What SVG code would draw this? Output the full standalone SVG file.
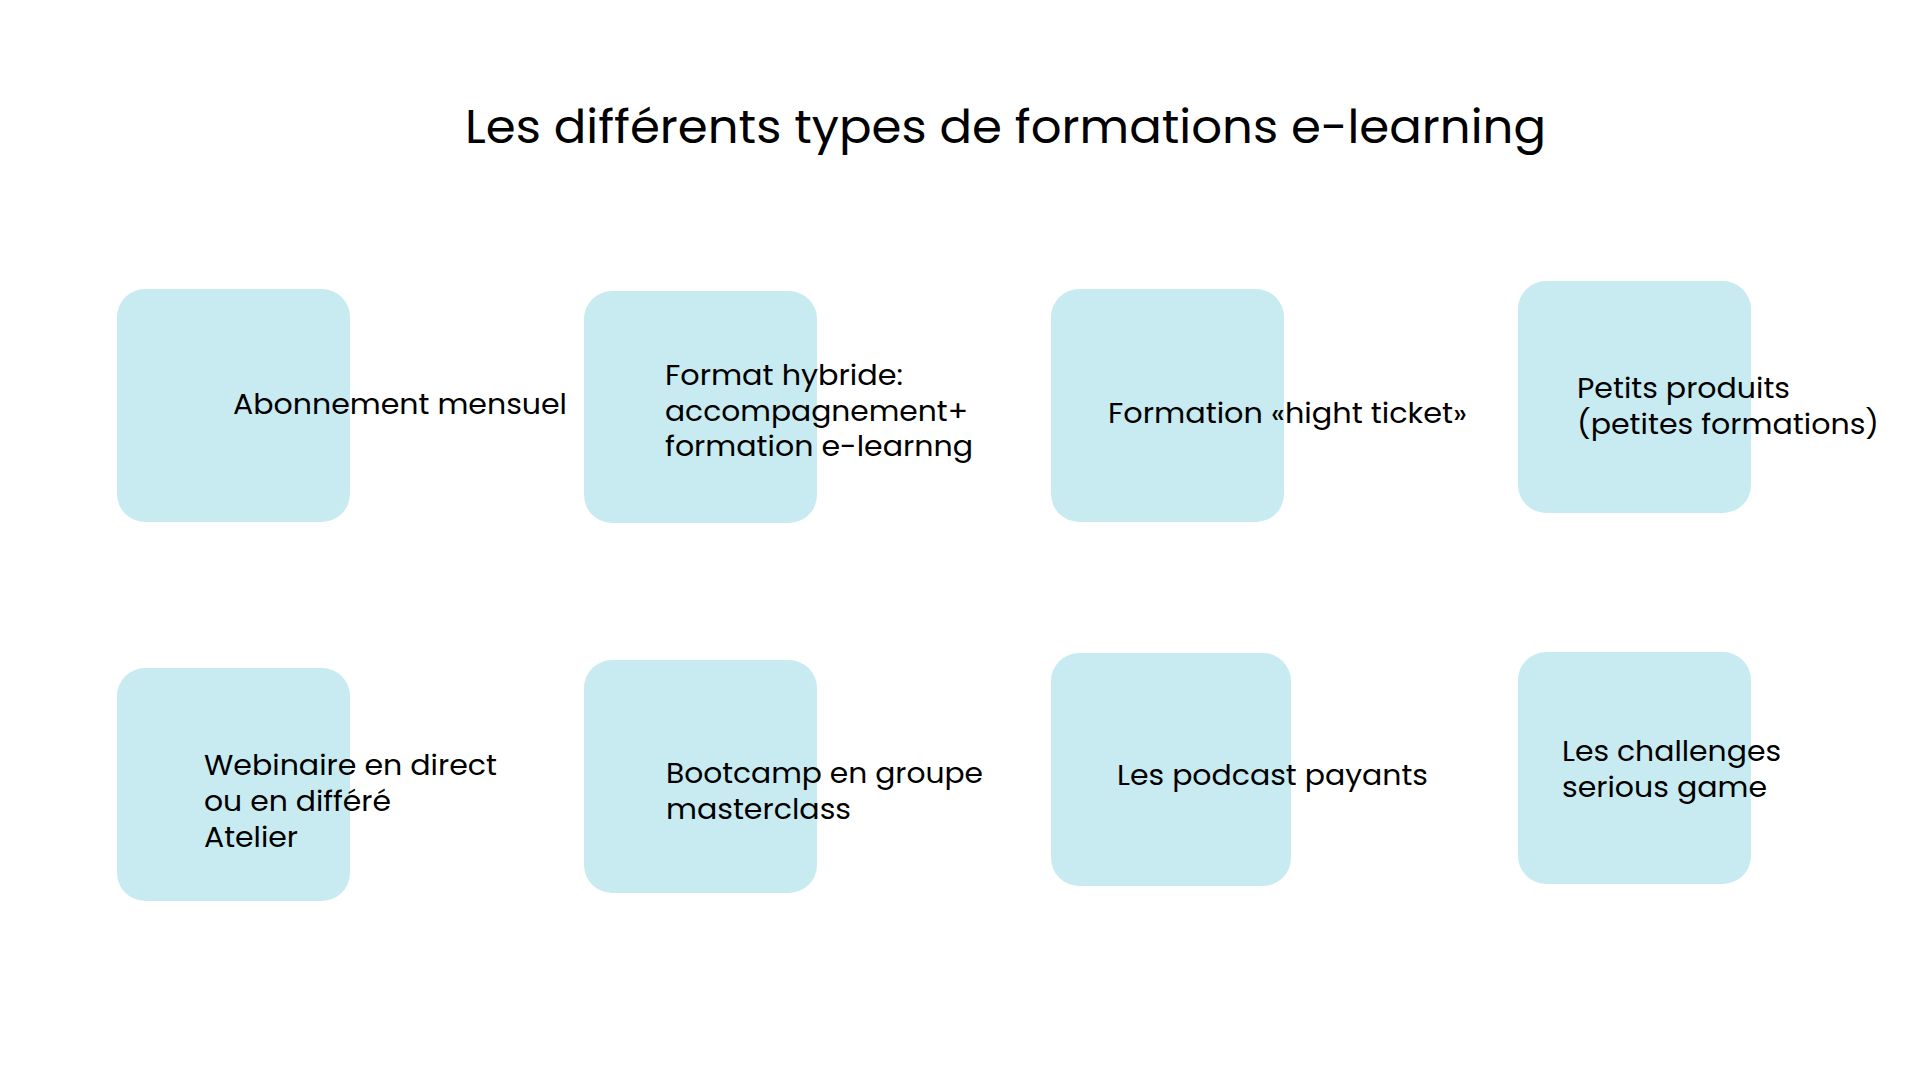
<svg xmlns="http://www.w3.org/2000/svg" width="1920" height="1080" viewBox="0 0 1920 1080">
  <style>
    .box { fill: #C8EBF1; }
    .lbl { font-family: Poppins, Inter, "Open Sans", "Liberation Sans", sans-serif; font-size: 29px; font-weight: 400; fill: #000000; }
    .title { font-family: Poppins, Inter, "Open Sans", "Liberation Sans", sans-serif; font-size: 46px; font-weight: 400; fill: #000000; }
  </style>
  <rect x="0" y="0" width="1920" height="1080" fill="#FFFFFF"/>
  <g id="title">
    <text class="title" x="465" y="143" textLength="1081" lengthAdjust="spacingAndGlyphs">Les différents types de formations e-learning</text>
  </g>
  <g id="connectors"></g>
  <g id="node-abonnement">
    <rect class="box" x="117" y="289" width="233" height="233" rx="28"/>
    <text class="lbl" x="233" y="414" textLength="334" lengthAdjust="spacingAndGlyphs">Abonnement mensuel</text>
  </g>
  <g id="node-hybride">
    <rect class="box" x="584" y="291" width="233" height="232" rx="28"/>
    <text class="lbl" x="665" y="385" textLength="238" lengthAdjust="spacingAndGlyphs">Format hybride:</text>
    <text class="lbl" x="665" y="420.5" textLength="303" lengthAdjust="spacingAndGlyphs">accompagnement+</text>
    <text class="lbl" x="665" y="456" textLength="308" lengthAdjust="spacingAndGlyphs">formation e-learnng</text>
  </g>
  <g id="node-high-ticket">
    <rect class="box" x="1051" y="289" width="233" height="233" rx="28"/>
    <text class="lbl" x="1108" y="423" textLength="359" lengthAdjust="spacingAndGlyphs">Formation «hight ticket»</text>
  </g>
  <g id="node-petits-produits">
    <rect class="box" x="1518" y="281" width="233" height="232" rx="28"/>
    <text class="lbl" x="1577" y="398" textLength="213" lengthAdjust="spacingAndGlyphs">Petits produits</text>
    <text class="lbl" x="1577" y="434" textLength="302" lengthAdjust="spacingAndGlyphs">(petites formations)</text>
  </g>
  <g id="node-webinaire">
    <rect class="box" x="117" y="668" width="233" height="233" rx="28"/>
    <text class="lbl" x="204" y="775" textLength="293" lengthAdjust="spacingAndGlyphs">Webinaire en direct</text>
    <text class="lbl" x="204" y="811" textLength="187" lengthAdjust="spacingAndGlyphs">ou en différé</text>
    <text class="lbl" x="204" y="847" textLength="94" lengthAdjust="spacingAndGlyphs">Atelier</text>
  </g>
  <g id="node-bootcamp">
    <rect class="box" x="584" y="660" width="233" height="233" rx="28"/>
    <text class="lbl" x="666" y="783" textLength="317" lengthAdjust="spacingAndGlyphs">Bootcamp en groupe</text>
    <text class="lbl" x="666" y="818.5" textLength="185" lengthAdjust="spacingAndGlyphs">masterclass</text>
  </g>
  <g id="node-podcast">
    <rect class="box" x="1051" y="653" width="240" height="233" rx="28"/>
    <text class="lbl" x="1117" y="785" textLength="311" lengthAdjust="spacingAndGlyphs">Les podcast payants</text>
  </g>
  <g id="node-challenges">
    <rect class="box" x="1518" y="652" width="233" height="232" rx="28"/>
    <text class="lbl" x="1562" y="761" textLength="219" lengthAdjust="spacingAndGlyphs">Les challenges</text>
    <text class="lbl" x="1562" y="797" textLength="205" lengthAdjust="spacingAndGlyphs">serious game</text>
  </g>
</svg>
